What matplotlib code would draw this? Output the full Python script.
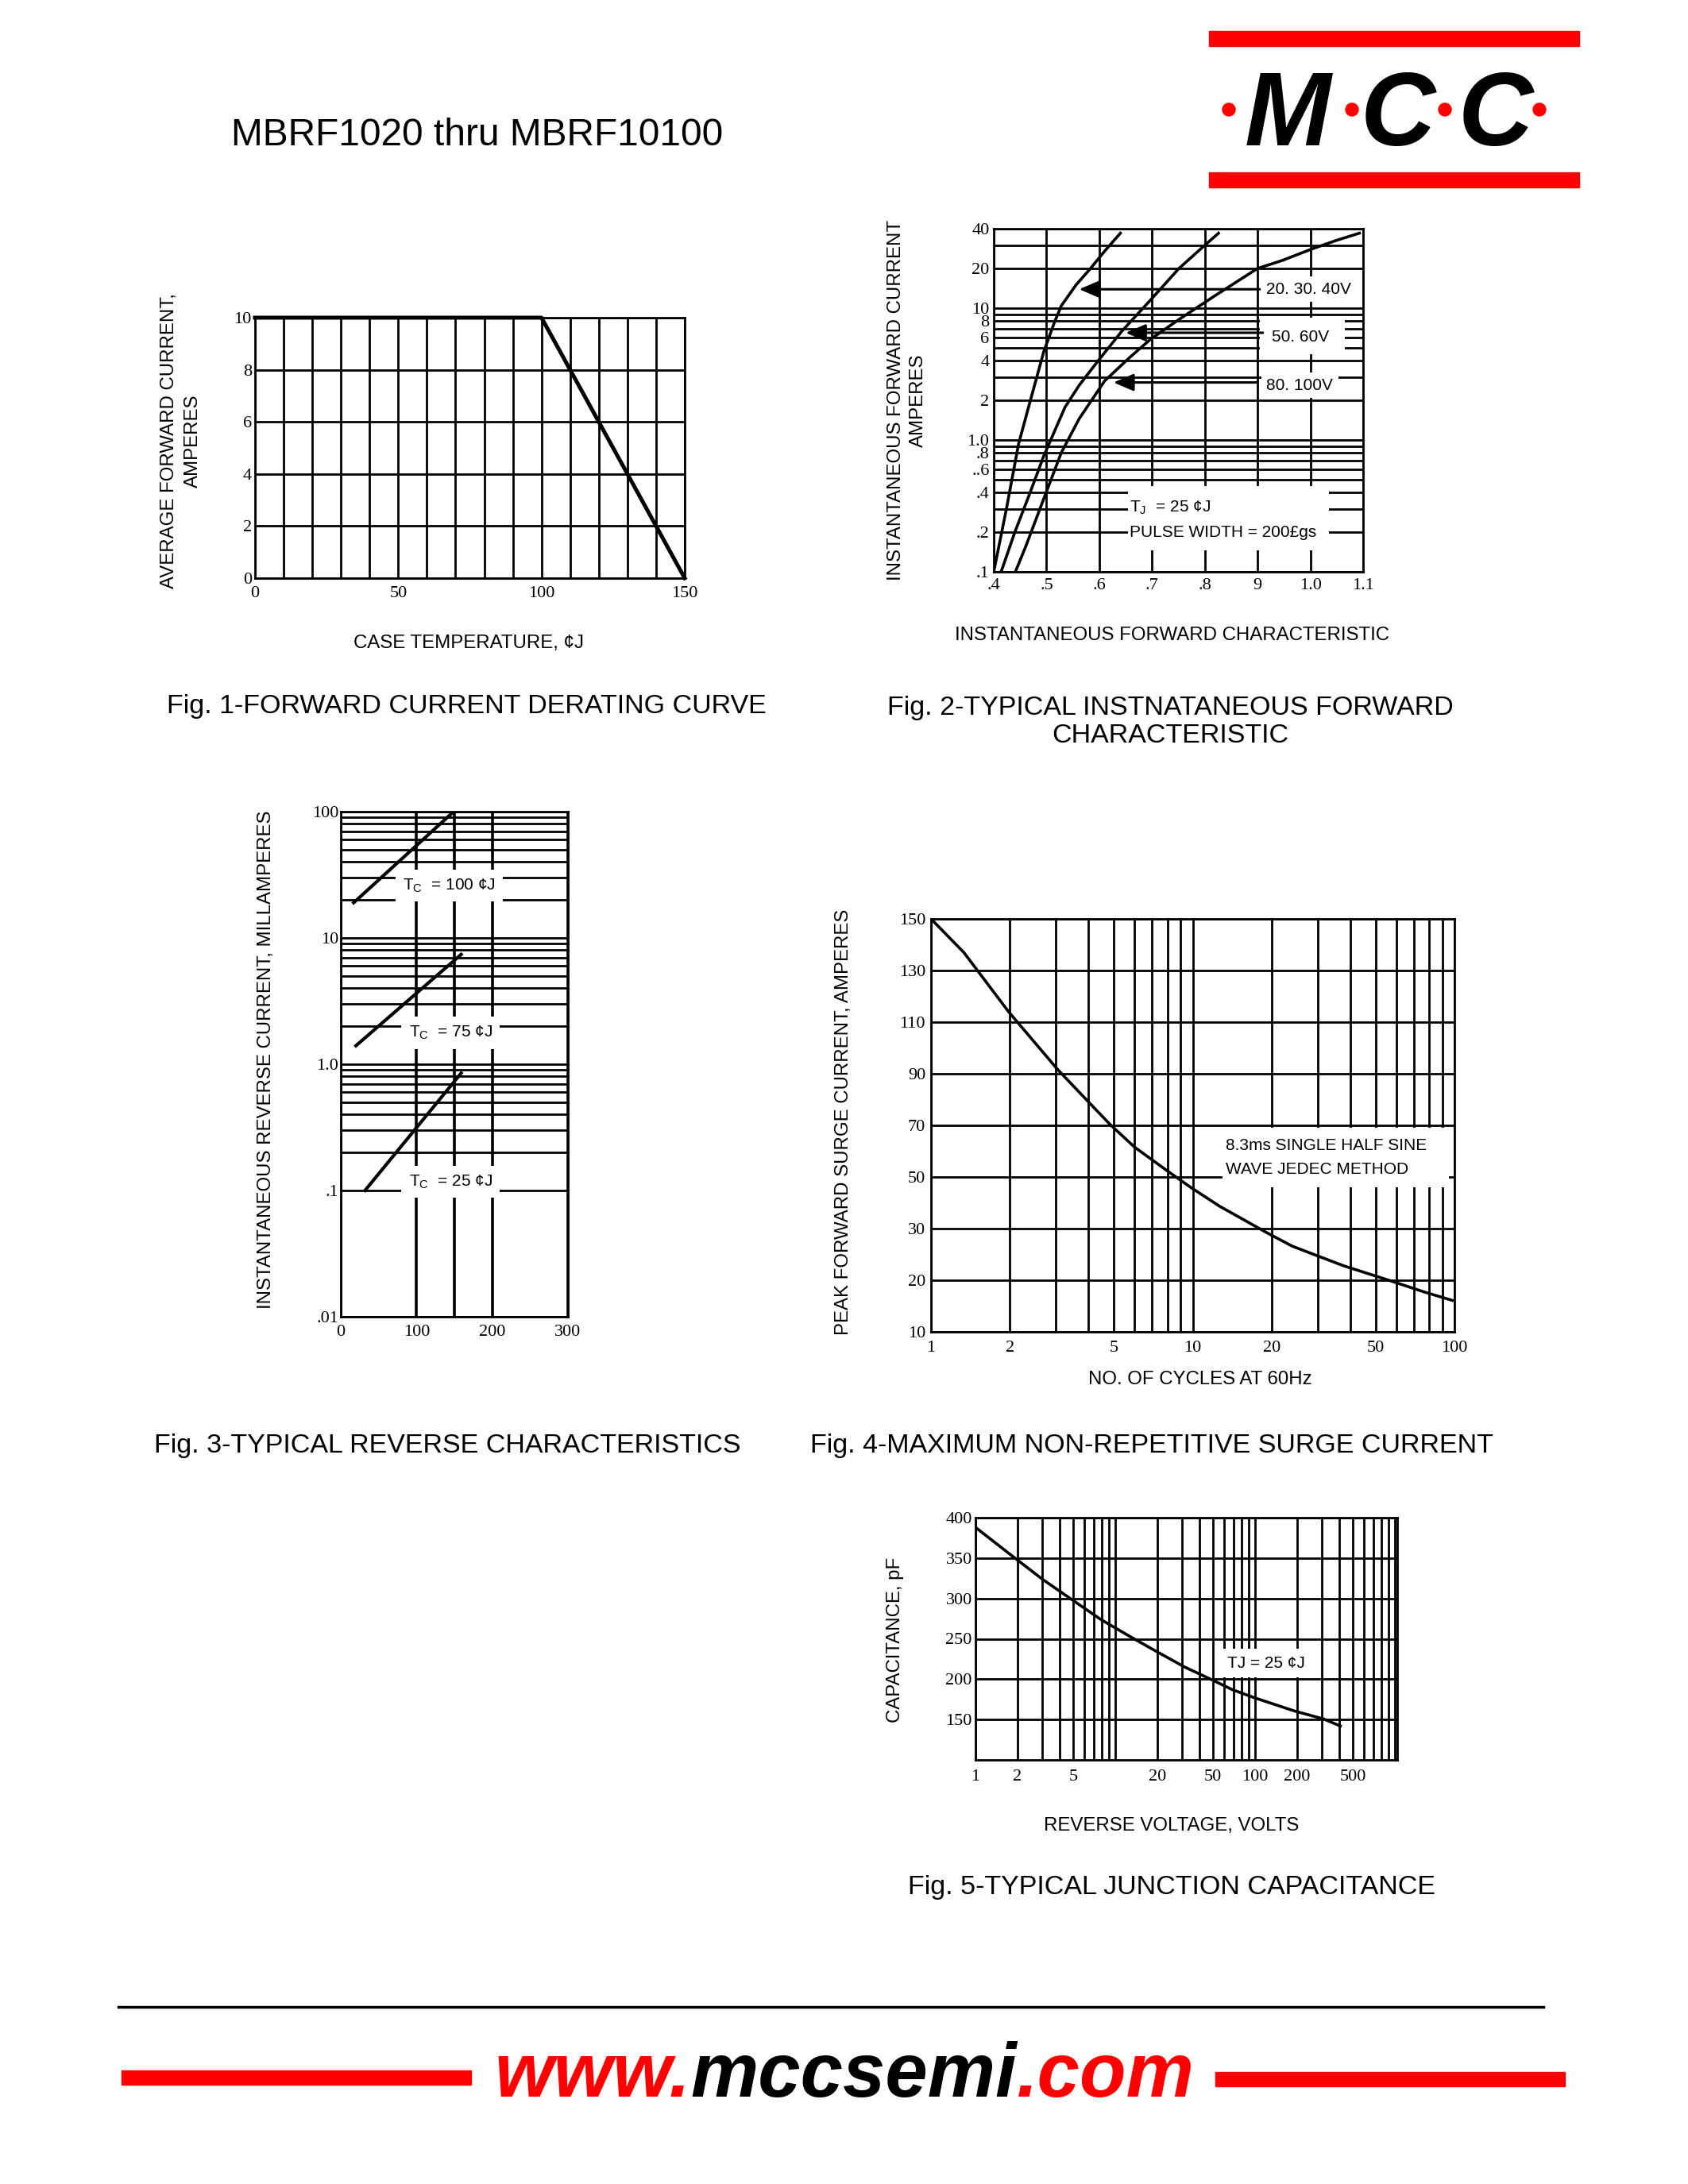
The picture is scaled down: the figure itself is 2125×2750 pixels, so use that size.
import numpy as np
import matplotlib.pyplot as plt
from matplotlib import ticker
from matplotlib.patches import Rectangle, Circle

W, H = 2125, 2750
RED = '#ff0000'
SANS = ['Liberation Sans', 'DejaVu Sans']
SERIF = ['Liberation Serif', 'DejaVu Serif']

plt.rcParams['font.family'] = SANS
plt.rcParams['mathtext.fontset'] = 'custom'
plt.rcParams['mathtext.rm'] = 'Liberation Sans'

# ---- values ----
# Fig. 1 forward current derating
case_temp = [0, 100, 150]
avg_fwd_current = [10, 10, 0]

# Fig. 2 forward characteristic (volts, amps)
vf_20_40 = [0.40, 0.424, 0.447, 0.468, 0.495, 0.515, 0.528, 0.556, 0.583, 0.61, 0.64]
if_20_40 = [0.1, 0.30, 0.93, 1.9, 4.7, 7.8, 10.4, 15, 19.9, 27, 37]
vf_50_60 = [0.414, 0.44, 0.468, 0.495, 0.535, 0.562, 0.596, 0.643, 0.697, 0.751, 0.798, 0.826]
if_50_60 = [0.1, 0.2, 0.39, 0.76, 1.77, 2.6, 3.9, 6.7, 11.5, 20, 29.5, 37]
vf_80_100 = [0.441, 0.461, 0.495, 0.528, 0.562, 0.610, 0.657, 0.697, 0.751, 0.819, 0.900, 0.947, 1.002, 1.049, 1.093]
if_80_100 = [0.1, 0.157, 0.36, 0.8, 1.45, 2.8, 4.2, 5.8, 8.2, 12.4, 20, 23, 28, 32.6, 37]
fwd_v_ticks = [0.4, 0.5, 0.6, 0.7, 0.8, 0.9, 1.0, 1.1]
fwd_v_labels = ['.4', '.5', '.6', '.7', '.8', '9', '1.0', '1.1']
fwd_i_ticks = [0.1, 0.2, 0.4, 0.6, 0.8, 1, 2, 4, 6, 8, 10, 20, 40]
fwd_i_labels = ['.1', '.2', '.4', '..6', '.8', '1.0', '2', '4', '6', '8', '10', '20', '40']
fwd_groups = ['20. 30. 40V', '50. 60V', '80. 100V']
arrow_tail_v = [0.904, 0.910, 0.900]
arrow_tip_v = [0.562, 0.650, 0.627]
arrow_i = [13.9, 6.5, 2.73]
group_label_v = [0.917, 0.927, 0.917]
group_label_i = [13.9, 6.0, 2.6]

# Fig. 3 reverse characteristics
rev_temps = ['100', '75', '25']
rev_x = [[17, 149], [20, 159], [32, 159]]
rev_ma = [[19, 100], [1.4, 7.4], [0.1, 0.85]]
rev_label_x = [143, 145, 145]
rev_label_ma = [25.9, 1.77, 0.1175]

# Fig. 4 surge current
cycles = [1, 1.335, 1.98, 3.05, 3.97, 4.84, 5.99, 8.09, 9.95, 12.7, 19.2, 24, 29, 37.7, 56.9, 76.9, 98]
surge_amps = [150, 137, 114, 91.6, 79.4, 70.3, 61.6, 52, 45.6, 38.6, 29.2, 26.6, 25, 22.8, 19.9, 17.7, 16.1]
surge_ticks = [10, 20, 30, 50, 70, 90, 110, 130, 150]
cycle_ticks = [1, 2, 5, 10, 20, 50, 100]

# Fig. 5 junction capacitance
rev_volts = [1, 1.85, 3.0, 4.85, 7.87, 12.7, 19.4, 31.4, 49.4, 68.8, 98.8, 192, 309, 407]
cap_pf = [388, 352, 324, 299, 274, 253, 235, 215, 199, 187, 177, 160.5, 150.7, 142]
volt_ticks = [1, 2, 5, 20, 50, 100, 200, 500]
cap_ticks = [150, 200, 250, 300, 350, 400]

tickfont = dict(fontfamily=SERIF, fontsize=16)
labfont = dict(fontsize=17.3)
titlefont = dict(fontsize=24.5)
GRID = dict(color='black', lw=2.0)

fig = plt.figure(figsize=(W / 100, H / 100), dpi=100)
page = fig.add_axes([0, 0, 1, 1])
page.set_xlim(0, W)
page.set_ylim(H, 0)
page.axis('off')


def chart(x0, y0, x1, y1):
    ax = fig.add_axes([x0 / W, 1 - y1 / H, (x1 - x0) / W, (y1 - y0) / H])
    for s in ax.spines.values():
        s.set_linewidth(2.0)
    ax.tick_params(which='both', length=0)
    return ax


allsubs = ticker.LogLocator(base=10, subs=np.arange(1, 10), numticks=50)
box = dict(boxstyle='square,pad=0.3', fc='white', ec='none')

# ---- header / logo ----
page.text(291, 170, 'MBRF1020 thru MBRF10100', fontsize=34.5, va='center', ha='left')
page.add_patch(Rectangle((1522, 39), 466, 19, color=RED))
page.add_patch(Rectangle((1522, 217), 466, 19, color=RED))
for cx in [1547, 1702, 1819, 1938]:
    page.add_patch(Circle((cx, 138), 8, color=RED))
for cx, ch in zip([1621, 1760, 1883], 'MCC'):
    page.text(cx, 183, ch, fontsize=94, fontweight='bold', fontstyle='italic',
              ha='center', va='baseline')

# ---- Fig. 1 ----
ax1 = chart(321, 400, 862, 728)
ax1.plot(case_temp, avg_fwd_current, color='black', lw=3.6, clip_on=False, zorder=3)
ax1.set_xlim(0, 150)
ax1.set_ylim(0, 10)
ax1.set_xticks([0, 50, 100, 150], ['0', '50', '100', '150'], **tickfont)
ax1.xaxis.set_minor_locator(ticker.MultipleLocator(10))
ax1.set_yticks(range(0, 11, 2), [str(v) for v in range(0, 11, 2)], **tickfont)
ax1.grid(which='both', **GRID)
ax1.tick_params(axis='x', pad=7)
ax1.tick_params(axis='y', pad=3)
page.text(590, 810, 'CASE TEMPERATURE, ¢J', ha='center', va='center', **labfont)
page.text(228, 555, 'AVERAGE FORWARD CURRENT,\nAMPERES', rotation=90, ha='center',
          va='center', multialignment='center', linespacing=1.45, **labfont)
page.text(587, 889, 'Fig. 1-FORWARD CURRENT DERATING CURVE', ha='center', va='center', **titlefont)

# ---- Fig. 2 ----
ax2 = chart(1251, 288, 1716, 720)
ax2.set_yscale('log')
ax2.set_xlim(0.4, 1.1)
ax2.set_ylim(0.1, 40)
ax2.set_xticks(fwd_v_ticks, fwd_v_labels, **tickfont)
ax2.set_yticks(fwd_i_ticks, fwd_i_labels, **tickfont)
ax2.yaxis.set_minor_locator(allsubs)
ax2.yaxis.set_minor_formatter(ticker.NullFormatter())
ax2.grid(which='both', **GRID)
ax2.tick_params(axis='x', pad=6)
ax2.tick_params(axis='y', pad=4)
for v, i in [(vf_20_40, if_20_40), (vf_50_60, if_50_60), (vf_80_100, if_80_100)]:
    ax2.plot(v, i, color='black', lw=2.6, zorder=3)
ax2.add_patch(Rectangle((0.655, 0.145), 1.036 - 0.655, 0.45 - 0.145, fc='white', ec='none', zorder=1.8))
ax2.add_patch(Rectangle((0.905, 4.5), 1.066 - 0.905, 8.5 - 4.5, fc='white', ec='none', zorder=1.8))
for name, tail, tip, i, lv, li in zip(fwd_groups, arrow_tail_v, arrow_tip_v, arrow_i,
                                      group_label_v, group_label_i):
    ax2.annotate('', xy=(tip, i), xytext=(tail, i),
                 arrowprops=dict(arrowstyle='-|>,head_length=0.7,head_width=0.3', lw=2.2,
                                 color='black', shrinkA=0, shrinkB=0, mutation_scale=22),
                 zorder=4)
    ax2.text(lv, li, name, ha='left', va='center', fontsize=15, bbox=box, zorder=4)
ax2.text(0.657, 0.305, 'T$_\\mathrm{J}$  = 25 ¢J', ha='left', va='center', fontsize=15, zorder=4)
ax2.text(0.657, 0.2, 'PULSE WIDTH = 200£gs', ha='left', va='center', fontsize=15, zorder=4)
page.text(1142, 504, 'INSTANTANEOUS FORWARD CURRENT\nAMPERES', rotation=90, ha='center',
          va='center', multialignment='center', linespacing=1.4, **labfont)
page.text(1475, 800, 'INSTANTANEOUS FORWARD CHARACTERISTIC', ha='center', va='center', **labfont)
page.text(1473, 909, 'Fig. 2-TYPICAL INSTNATANEOUS FORWARD\nCHARACTERISTIC', ha='center',
          va='center', multialignment='center', linespacing=1.18, **titlefont)

# ---- Fig. 3 ----
ax3 = chart(429, 1022, 715, 1658)
ax3.set_yscale('log')
ax3.set_xlim(0, 300)
ax3.set_ylim(0.01, 100)
ax3.set_xticks([0, 100, 200, 300], ['0', '100', '200', '300'], **tickfont)
ax3.xaxis.set_minor_locator(ticker.FixedLocator([150]))
ax3.set_yticks([0.01, 0.1, 1, 10, 100], ['.01', '.1', '1.0', '10', '100'], **tickfont)
ax3.yaxis.set_minor_locator(allsubs)
ax3.yaxis.set_minor_formatter(ticker.NullFormatter())
ax3.grid(axis='y', which='both', **GRID)
ax3.grid(axis='x', which='both', color='black', lw=2.6)
ax3.tick_params(axis='x', pad=7)
ax3.tick_params(axis='y', pad=2)
for t, xs, ys, lx, ly in zip(rev_temps, rev_x, rev_ma, rev_label_x, rev_label_ma):
    ax3.plot(xs, ys, color='black', lw=3.0, zorder=3)
    ax3.text(lx, ly, 'T$_\\mathrm{C}$  = ' + t + ' ¢J', ha='center', va='center', fontsize=15,
             bbox=dict(boxstyle='square,pad=0.45', fc='white', ec='none'), zorder=4)
page.text(335, 1334, 'INSTANTANEOUS REVERSE CURRENT, MILLAMPERES', rotation=90, ha='center',
          va='center', **labfont)
page.text(563, 1820, 'Fig. 3-TYPICAL REVERSE CHARACTERISTICS', ha='center', va='center', **titlefont)

# ---- Fig. 4 ----
surge_pos = np.arange(len(surge_ticks))


def surge_fwd(v):
    return np.interp(v, surge_ticks, surge_pos)


def surge_inv(p):
    return np.interp(p, surge_pos, surge_ticks)


ax4 = chart(1172, 1157, 1831, 1677)
ax4.set_xscale('log')
ax4.set_yscale('function', functions=(surge_fwd, surge_inv))
ax4.set_xlim(1, 100)
ax4.set_ylim(10, 150)
ax4.set_xticks(cycle_ticks, [str(c) for c in cycle_ticks], **tickfont)
ax4.xaxis.set_minor_locator(allsubs)
ax4.xaxis.set_minor_formatter(ticker.NullFormatter())
ax4.set_yticks(surge_ticks, [str(v) for v in surge_ticks], **tickfont)
ax4.yaxis.set_minor_locator(ticker.NullLocator())
ax4.grid(which='both', **GRID)
ax4.tick_params(axis='x', pad=8)
ax4.tick_params(axis='y', pad=5)
ax4.plot(cycles, surge_amps, color='black', lw=2.6, zorder=3)
ax4.add_patch(Rectangle((13, 46), 95 - 13, 69.2 - 46, fc='white', ec='none', zorder=1.8))
ax4.text(13.4, 62, '8.3ms SINGLE HALF SINE', ha='left', va='center', fontsize=15, zorder=4)
ax4.text(13.4, 53, 'WAVE JEDEC METHOD', ha='left', va='center', fontsize=15, zorder=4)
page.text(1062, 1413, 'PEAK FORWARD SURGE CURRENT, AMPERES', rotation=90, ha='center',
          va='center', **labfont)
page.text(1511, 1737, 'NO. OF CYCLES AT 60Hz', ha='center', va='center', **labfont)
page.text(1450, 1820, 'Fig. 4-MAXIMUM NON-REPETITIVE SURGE CURRENT', ha='center', va='center',
          **titlefont)

# ---- Fig. 5 ----
ax5 = chart(1228, 1911, 1759, 2216)
ax5.set_xscale('log')
ax5.set_xlim(1, 1040)
ax5.set_ylim(100, 400)
ax5.set_xticks(volt_ticks, [str(v) for v in volt_ticks], **tickfont)
ax5.xaxis.set_minor_locator(allsubs)
ax5.xaxis.set_minor_formatter(ticker.NullFormatter())
ax5.set_yticks(cap_ticks, [str(v) for v in cap_ticks], **tickfont)
ax5.grid(which='both', **GRID)
ax5.tick_params(axis='x', pad=9)
ax5.tick_params(axis='y', pad=3)
ax5.plot(rev_volts, cap_pf, color='black', lw=2.6, zorder=3)
ax5.text(63, 220, 'TJ = 25 ¢J', ha='left', va='center', fontsize=15,
         bbox=dict(boxstyle='square,pad=0.4', fc='white', ec='none'), zorder=4)
page.text(1127, 2065, 'CAPACITANCE, pF', rotation=90, ha='center', va='center', **labfont)
page.text(1475, 2299, 'REVERSE VOLTAGE, VOLTS', ha='center', va='center', **labfont)
page.text(1475, 2377, 'Fig. 5-TYPICAL JUNCTION CAPACITANCE', ha='center', va='center', **titlefont)

# ---- footer ----
page.plot([149, 1943], [2527, 2527], color='black', lw=2.5)
page.add_patch(Rectangle((153, 2607), 440, 18, color=RED))
page.add_patch(Rectangle((1530, 2609), 440, 18, color=RED))
foot = dict(fontsize=69, fontweight='bold', fontstyle='italic')
t1 = page.text(622, 2640, 'www.', color=RED, ha='left', va='baseline', **foot)
t2 = page.annotate('mccsemi', xy=(1, 0), xycoords=t1, ha='left', va='bottom', color='black', **foot)
page.annotate('.com', xy=(1, 0), xycoords=t2, ha='left', va='bottom', color=RED, **foot)

fig.savefig('out.png', dpi=100, facecolor='white')
